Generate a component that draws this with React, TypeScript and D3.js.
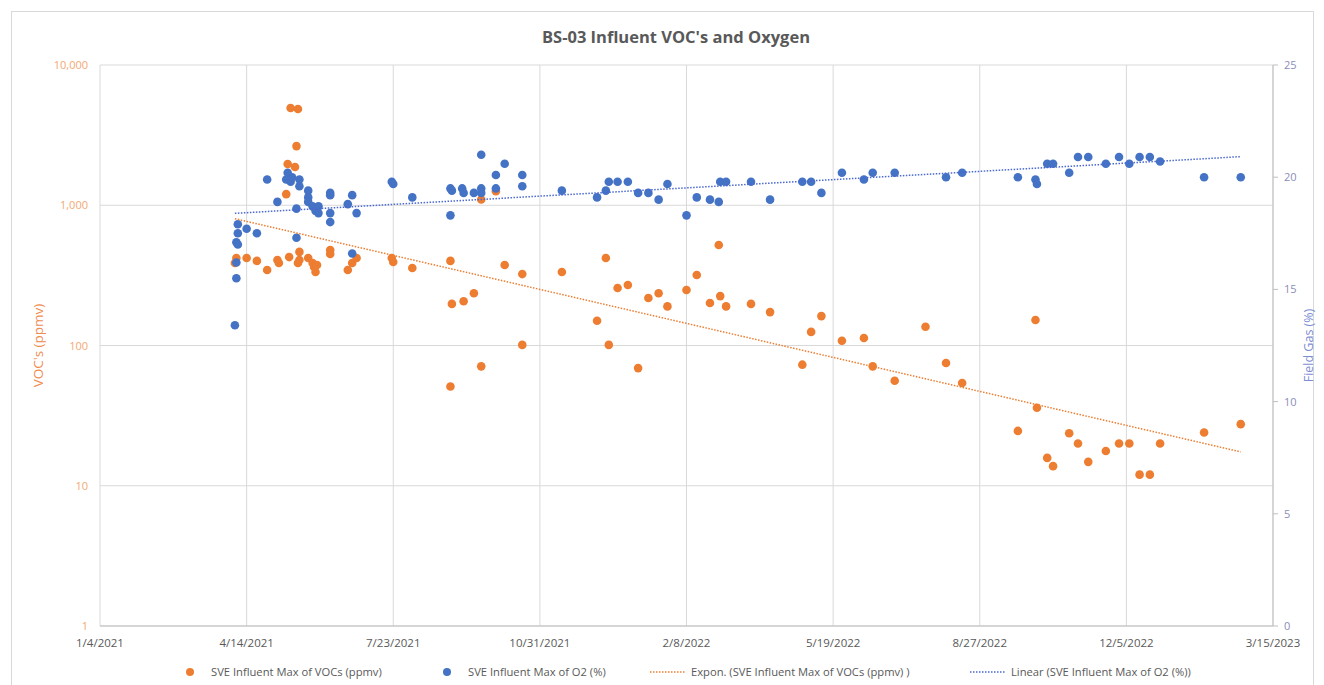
import * as d3 from 'd3';

// BS-03 influent samples: [sample date, value]
const vocSamples: [string, number][] = [
  ['4/6/2021', 387], ['4/7/2021', 421], ['4/14/2021', 421], ['4/21/2021', 401], ['4/28/2021', 345],
  ['5/5/2021', 407], ['5/6/2021', 387], ['5/11/2021', 1200], ['5/12/2021', 1970], ['5/13/2021', 427],
  ['5/14/2021', 4940], ['5/17/2021', 1875], ['5/18/2021', 2640], ['5/19/2021', 4850], ['5/19/2021', 387],
  ['5/20/2021', 465], ['5/20/2021', 407], ['5/26/2021', 421], ['5/29/2021', 387], ['5/30/2021', 363],
  ['5/31/2021', 334], ['6/1/2021', 375], ['6/10/2021', 480], ['6/10/2021', 449], ['6/22/2021', 345],
  ['6/25/2021', 387], ['6/28/2021', 421], ['7/22/2021', 421], ['7/23/2021', 394], ['8/5/2021', 357],
  ['8/31/2021', 401], ['8/31/2021', 51], ['9/1/2021', 198], ['9/9/2021', 207], ['9/16/2021', 236],
  ['9/21/2021', 1100], ['9/21/2021', 71], ['10/1/2021', 1260], ['10/7/2021', 375], ['10/19/2021', 323],
  ['10/19/2021', 101], ['11/15/2021', 334], ['12/9/2021', 150], ['12/15/2021', 421], ['12/17/2021', 101],
  ['12/23/2021', 257], ['12/30/2021', 270], ['1/6/2022', 69], ['1/13/2022', 218], ['1/20/2022', 236],
  ['1/26/2022', 190], ['2/8/2022', 249], ['2/15/2022', 318], ['2/24/2022', 201], ['3/2/2022', 521],
  ['3/3/2022', 225], ['3/7/2022', 190], ['3/24/2022', 198], ['4/6/2022', 173], ['4/28/2022', 73],
  ['5/4/2022', 125], ['5/11/2022', 162], ['5/25/2022', 108], ['6/9/2022', 113], ['6/15/2022', 71],
  ['6/30/2022', 56], ['7/21/2022', 136], ['8/4/2022', 75], ['8/15/2022', 54], ['9/22/2022', 24.6],
  ['10/4/2022', 152], ['10/5/2022', 36], ['10/12/2022', 15.8], ['10/16/2022', 13.8], ['10/27/2022', 23.7],
  ['11/2/2022', 20], ['11/9/2022', 14.8], ['11/21/2022', 17.7], ['11/30/2022', 20], ['12/7/2022', 20],
  ['12/14/2022', 12], ['12/21/2022', 12], ['12/28/2022', 20], ['1/27/2023', 24], ['2/21/2023', 27.5],
];

const o2Samples: [string, number][] = [
  ['4/6/2021', 13.4], ['4/7/2021', 16.2], ['4/7/2021', 15.5], ['4/7/2021', 17.1], ['4/8/2021', 17.0],
  ['4/8/2021', 17.9], ['4/8/2021', 17.5], ['4/14/2021', 17.7], ['4/21/2021', 17.5], ['4/28/2021', 19.9],
  ['5/5/2021', 18.9], ['5/11/2021', 19.9], ['5/12/2021', 20.2], ['5/14/2021', 19.8], ['5/15/2021', 20.0],
  ['5/18/2021', 18.6], ['5/18/2021', 17.3], ['5/20/2021', 19.9], ['5/20/2021', 19.6], ['5/26/2021', 19.4],
  ['5/26/2021', 19.1], ['5/26/2021', 18.9], ['5/29/2021', 18.7], ['5/31/2021', 18.5], ['6/2/2021', 18.7],
  ['6/2/2021', 18.4], ['6/10/2021', 19.3], ['6/10/2021', 19.2], ['6/10/2021', 18.4], ['6/10/2021', 18.0],
  ['6/22/2021', 18.8], ['6/25/2021', 19.2], ['6/25/2021', 16.6], ['6/28/2021', 18.4], ['7/22/2021', 19.8],
  ['7/23/2021', 19.7], ['8/5/2021', 19.1], ['8/31/2021', 19.5], ['8/31/2021', 18.3], ['9/1/2021', 19.4],
  ['9/8/2021', 19.5], ['9/9/2021', 19.3], ['9/16/2021', 19.3], ['9/21/2021', 19.5], ['9/21/2021', 19.3],
  ['9/21/2021', 21.0], ['10/1/2021', 20.1], ['10/1/2021', 19.5], ['10/7/2021', 20.6], ['10/19/2021', 20.1],
  ['10/19/2021', 19.6], ['11/15/2021', 19.4], ['12/9/2021', 19.1], ['12/15/2021', 19.4], ['12/17/2021', 19.8],
  ['12/23/2021', 19.8], ['12/30/2021', 19.8], ['1/6/2022', 19.3], ['1/13/2022', 19.3], ['1/20/2022', 19.0],
  ['1/26/2022', 19.7], ['2/8/2022', 18.3], ['2/15/2022', 19.1], ['2/24/2022', 19.0], ['3/2/2022', 18.9],
  ['3/3/2022', 19.8], ['3/7/2022', 19.8], ['3/24/2022', 19.8], ['4/6/2022', 19.0], ['4/28/2022', 19.8],
  ['5/4/2022', 19.8], ['5/11/2022', 19.3], ['5/25/2022', 20.2], ['6/9/2022', 19.9], ['6/15/2022', 20.2],
  ['6/30/2022', 20.2], ['8/4/2022', 20.0], ['8/15/2022', 20.2], ['9/22/2022', 20.0], ['10/4/2022', 19.9],
  ['10/5/2022', 19.7], ['10/12/2022', 20.6], ['10/16/2022', 20.6], ['10/27/2022', 20.2], ['11/2/2022', 20.9],
  ['11/9/2022', 20.9], ['11/21/2022', 20.6], ['11/30/2022', 20.9], ['12/7/2022', 20.6], ['12/14/2022', 20.9],
  ['12/21/2022', 20.9], ['12/28/2022', 20.7], ['1/27/2023', 20.0], ['2/21/2023', 20.0],
];

const xTickDates = ['1/4/2021', '4/14/2021', '7/23/2021', '10/31/2021', '2/8/2022', '5/19/2022', '8/27/2022', '12/5/2022', '3/15/2023'];
const vocTicks = [1, 10, 100, 1000, 10000];
const o2Ticks = [0, 5, 10, 15, 20, 25];

const legendItems = [
  { label: 'SVE Influent Max of VOCs (ppmv)', kind: 'dot', color: '#ED7D31' },
  { label: 'SVE Influent Max of O2 (%)', kind: 'dot', color: '#4472C4' },
  { label: 'Expon. (SVE Influent Max of VOCs (ppmv) )', kind: 'line', color: '#ED7D31' },
  { label: 'Linear (SVE Influent Max of O2 (%))', kind: 'line', color: '#4A68CF' },
];

const parse = d3.timeParse('%-m/%-d/%Y');
const fmtDate = d3.timeFormat('%-m/%-d/%Y');

const W = 1324;
const H = 685;
const FONT = '"Open Sans", "Liberation Sans", sans-serif';

// least squares on (t, v)
function fit(pts: { t: number; v: number }[]) {
  const mt = d3.mean(pts, p => p.t) as number;
  const mv = d3.mean(pts, p => p.v) as number;
  const sxy = d3.sum(pts, p => (p.t - mt) * (p.v - mv));
  const sxx = d3.sum(pts, p => (p.t - mt) ** 2);
  const b = sxy / sxx;
  return { a: mv - b * mt, b };
}

export default function App() {
  const voc = vocSamples.map(([d, v]) => ({ date: parse(d) as Date, v }));
  const o2 = o2Samples.map(([d, v]) => ({ date: parse(d) as Date, v }));
  const ticks = xTickDates.map(d => parse(d) as Date);

  const x = d3.scaleTime().domain([ticks[0], ticks[ticks.length - 1]]).range([100, 1273]);
  const yL = d3.scaleLog().domain([1, 10000]).range([626, 65]);
  const yR = d3.scaleLinear().domain([0, 25]).range([626, 65]);

  // trendlines: exponential for VOCs, linear for O2
  const day = 864e5;
  const expFit = fit(voc.map(p => ({ t: +p.date / day, v: Math.log(p.v) })));
  const linFit = fit(o2.map(p => ({ t: +p.date / day, v: p.v })));
  const vocExt = d3.extent(voc, p => p.date) as [Date, Date];
  const o2Ext = d3.extent(o2, p => p.date) as [Date, Date];
  const trendDates = (ext: [Date, Date]) => d3.range(0, 41).map(i => new Date(+ext[0] + (i / 40) * (+ext[1] - +ext[0])));

  const expLine = d3.line<Date>()
    .x(d => x(d))
    .y(d => yL(Math.exp(expFit.a + expFit.b * (+d / day))));
  const linLine = d3.line<Date>()
    .x(d => x(d))
    .y(d => yR(linFit.a + linFit.b * (+d / day)));

  const [x0, x1] = x.range();
  const [yBot, yTop] = yL.range();

  const legendX = [190, 447, 650, 970];

  return (
    <div style={{ position: 'fixed', left: 0, top: 0 }}>
      <svg width={W} height={H} style={{ display: 'block', background: '#fff', fontFamily: FONT }}>
        <rect x={11.5} y={11.5} width={1302} height={700} fill="#fff" stroke="#d9d9d9" />

        <text x={676} y={43} textAnchor="middle" fontSize={16.5} fontWeight="bold" fill="#595959">
          BS-03 Influent VOC's and Oxygen
        </text>

        {/* grid */}
        {ticks.map((t, i) => (
          <line key={'gx' + i} x1={x(t)} x2={x(t)} y1={yTop} y2={yBot} stroke="#d9d9d9" />
        ))}
        {vocTicks.map(v => (
          <line key={'gy' + v} x1={x0} x2={x1} y1={yL(v)} y2={yL(v)} stroke="#d9d9d9" />
        ))}
        <line x1={x1} x2={x1} y1={yTop} y2={yBot} stroke="#bfbfbf" />
        <line x1={x0} x2={x1} y1={yBot} y2={yBot} stroke="#bfbfbf" />
        {o2Ticks.map(v => (
          <line key={'rt' + v} x1={x1} x2={x1 + 5} y1={yR(v)} y2={yR(v)} stroke="#bfbfbf" />
        ))}

        {/* left axis */}
        {vocTicks.map(v => (
          <text key={'yl' + v} x={88} y={yL(v) + 4} textAnchor="end" fontSize={11} fill="#F4A874">
            {d3.format(',')(v)}
          </text>
        ))}
        <text transform={`translate(43,${(yTop + yBot) / 2}) rotate(-90)`} textAnchor="middle" fontSize={13.5} fill="#F08C50">
          VOC's (ppmv)
        </text>

        {/* right axis */}
        {o2Ticks.map(v => (
          <text key={'yr' + v} x={1284} y={yR(v) + 4} fontSize={11} fill="#8A8DB8">
            {v}
          </text>
        ))}
        <text transform={`translate(1313,${(yTop + yBot) / 2}) rotate(-90)`} textAnchor="middle" fontSize={12.5} fill="#7C8ED3">
          Field Gas (%)
        </text>

        {/* x axis */}
        {ticks.map((t, i) => (
          <text key={'xl' + i} x={x(t)} y={647} textAnchor="middle" fontSize={11.5} fill="#595959">
            {fmtDate(t)}
          </text>
        ))}

        {/* points */}
        {voc.map((p, i) => (
          <circle key={'v' + i} cx={x(p.date)} cy={yL(p.v)} r={4.3} fill="#ED7D31" />
        ))}
        {o2.map((p, i) => (
          <circle key={'o' + i} cx={x(p.date)} cy={yR(p.v)} r={4.3} fill="#4472C4" />
        ))}

        {/* trendlines */}
        <path d={expLine(trendDates(vocExt)) || ''} fill="none" stroke="#ED7D31" strokeWidth={1.5} strokeDasharray="1.5 1.5" />
        <path d={linLine(trendDates(o2Ext)) || ''} fill="none" stroke="#4A68CF" strokeWidth={1.5} strokeDasharray="1.5 1.5" />

        {/* legend */}
        {legendItems.map((it, i) => (
          <g key={'lg' + i} transform={`translate(${legendX[i]},672)`}>
            {it.kind === 'dot' ? (
              <circle cx={0} cy={0} r={4} fill={it.color} />
            ) : (
              <line x1={0} x2={36} y1={0} y2={0} stroke={it.color} strokeWidth={1.5} strokeDasharray="1.5 1.5" />
            )}
            <text x={it.kind === 'dot' ? 21 : 41} y={4} fontSize={11.2} fill="#595959">
              {it.label}
            </text>
          </g>
        ))}
      </svg>
    </div>
  );
}
